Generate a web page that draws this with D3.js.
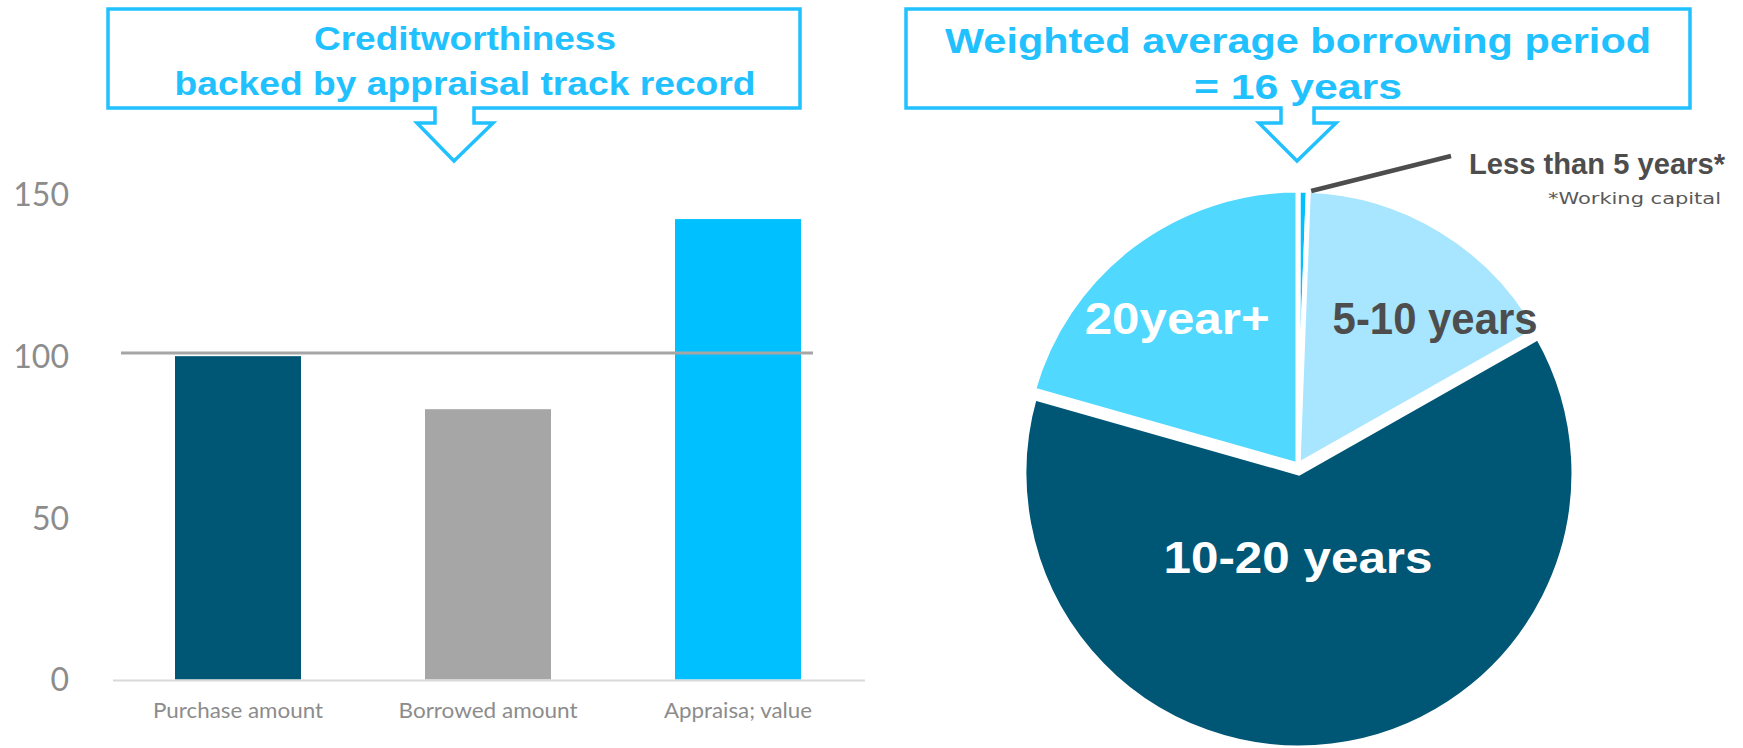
<!DOCTYPE html>
<html>
<head>
<meta charset="utf-8">
<script src="https://cdn.jsdelivr.net/npm/d3@7"></script>
<style>
  html, body { margin: 0; padding: 0; background: #ffffff; }
  svg { display: block; }
</style>
</head>
<body>
<svg id="chart" width="1743" height="748"></svg>
<script>
// ---------- DATA ----------
const categories = ["Purchase amount", "Borrowed amount", "Appraisa; value"];
const barValues = [100, 83.6, 142.4];
const yTicks = [0, 50, 100, 150];
const refValue = 101;

const pieLabels = ["Less than 5 years*", "5-10 years", "10-20 years", "20year+"];
const pieValues = [0.6, 16.2, 62.6, 20.6];
const footnote = "*Working capital";

const leftTitle = ["Creditworthiness", "backed by appraisal track record"];
const rightTitle = ["Weighted average borrowing period", "= 16 years"];

// ---------- SETUP ----------
const svg = d3.select("#chart");
const accent = "#21c1ff";
const titleFont = "'Liberation Sans', Arial, sans-serif";
const axisFont = "Lato, 'Open Sans', sans-serif";

// ---------- CALLOUT BOXES ----------
function callout(x0, x1, y0, y1, stemL, stemR, headL, headR, tipX, stemY, tipY) {
  const p = d3.path();
  p.moveTo(x0, y0); p.lineTo(x1, y0); p.lineTo(x1, y1); p.lineTo(stemR, y1);
  p.lineTo(stemR, stemY); p.lineTo(headR, stemY); p.lineTo(tipX, tipY);
  p.lineTo(headL, stemY); p.lineTo(stemL, stemY); p.lineTo(stemL, y1);
  p.lineTo(x0, y1); p.closePath();
  svg.append("path").attr("d", p.toString())
    .attr("fill", "#fff").attr("stroke", accent).attr("stroke-width", 3.5)
    .attr("stroke-linejoin", "miter");
}
callout(108, 800, 9, 108, 435, 474, 417, 493, 454, 123, 161);
callout(906, 1690, 9, 108, 1281, 1314, 1259, 1336, 1297, 123, 161);

function titleLines(lines, cx, baselines, widths, size) {
  lines.forEach((t, i) => {
    svg.append("text").text(t)
      .attr("x", cx).attr("y", baselines[i])
      .attr("text-anchor", "middle")
      .attr("font-family", titleFont).attr("font-weight", "bold")
      .attr("font-size", size).attr("fill", accent)
      .attr("textLength", widths[i]).attr("lengthAdjust", "spacingAndGlyphs");
  });
}
titleLines(leftTitle, 465, [50, 95], [302, 581], 34);
titleLines(rightTitle, 1298, [53, 99], [706, 208], 35);

// ---------- BAR CHART ----------
const x = d3.scaleBand().domain(categories).range([113, 863])
  .paddingInner(0.496).paddingOuter(0.248);
const y = d3.scaleLinear().domain([0, 150]).range([679.5, 194.5]);
const barColor = d3.scaleOrdinal().domain(categories).range(["#005675", "#a6a6a6", "#00c0ff"]);

const bars = svg.append("g");
bars.selectAll("rect").data(categories).join("rect")
  .attr("x", d => x(d))
  .attr("width", x.bandwidth())
  .attr("y", (d, i) => y(barValues[i]))
  .attr("height", (d, i) => y(0) - y(barValues[i]))
  .attr("fill", d => barColor(d));

// baseline
svg.append("line").attr("x1", 113).attr("x2", 865)
  .attr("y1", y(0) + 1).attr("y2", y(0) + 1)
  .attr("stroke", "#d9d9d9").attr("stroke-width", 2);

// reference line
svg.append("line").attr("x1", 121).attr("x2", 813)
  .attr("y1", y(refValue)).attr("y2", y(refValue))
  .attr("stroke", "#a6a6a6").attr("stroke-width", 3);

// y axis labels
const yAxis = d3.axisLeft(y).tickValues(yTicks).tickSize(0).tickPadding(0);
const gy = svg.append("g").attr("transform", "translate(69,0)").call(yAxis);
gy.select(".domain").remove();
gy.selectAll("text").attr("font-family", axisFont).attr("font-size", 32)
  .attr("fill", "#8c8c8c").attr("dy", "0.35em");

// x axis labels
const xAxis = d3.axisBottom(x).tickSize(0).tickPadding(0);
const gx = svg.append("g").attr("transform", "translate(0,0)").call(xAxis);
gx.select(".domain").remove();
const labelW = [170, 179, 148];
gx.selectAll("text").attr("font-family", axisFont).attr("font-size", 21)
  .attr("fill", "#8c8c8c").attr("y", 718).attr("dy", 0)
  .attr("textLength", (d, i) => labelW[i]).attr("lengthAdjust", "spacingAndGlyphs");

// ---------- PIE ----------
const cx = 1298, cy = 465, R = 275;
const pieColor = d3.scaleOrdinal().domain(pieLabels).range(["#00c0ff", "#a8e5ff", "#005675", "#50d8ff"]);
const pie = d3.pie().sort(null).value(d => d)(pieValues);
const arc = d3.arc().innerRadius(0).outerRadius(R);
const explode = [0, 0, 8, 0];

const pg = svg.append("g").attr("transform", `translate(${cx},${cy})`);
pg.selectAll("path").data(pie).join("path")
  .attr("d", arc)
  .attr("transform", (d, i) => {
    const a = (d.startAngle + d.endAngle) / 2;
    return `translate(${Math.sin(a) * explode[i]},${-Math.cos(a) * explode[i]})`;
  })
  .attr("fill", (d, i) => pieColor(pieLabels[i]))
  .attr("stroke", "#fff").attr("stroke-width", 5).attr("stroke-linejoin", "miter");

// inner labels (polar placement around pie centre)
const inner = [
  null,
  { r: 201, deg: 43, fill: "#4d4d4d", w: 205 },
  { r: 92, deg: 180, fill: "#ffffff", w: 269 },
  { r: 190, deg: 320.5, fill: "#ffffff", w: 185 }
];
inner.forEach((o, i) => {
  if (!o) return;
  const a = o.deg * Math.PI / 180;
  pg.append("text").text(pieLabels[i])
    .attr("x", Math.sin(a) * o.r).attr("y", -Math.cos(a) * o.r)
    .attr("dy", "0.36em").attr("text-anchor", "middle")
    .attr("font-family", titleFont).attr("font-weight", "bold")
    .attr("font-size", 44).attr("fill", o.fill)
    .attr("textLength", o.w).attr("lengthAdjust", "spacingAndGlyphs");
});

// leader line for the tiny slice
const tiny = pie[0];
const ta = (tiny.startAngle + tiny.endAngle) / 2;
svg.append("line")
  .attr("x1", cx + Math.sin(ta) * R + 8).attr("y1", cy - Math.cos(ta) * R + 1)
  .attr("x2", 1451).attr("y2", 156)
  .attr("stroke", "#4d4d4d").attr("stroke-width", 4.5);

svg.append("text").text(pieLabels[0])
  .attr("x", 1469).attr("y", 174)
  .attr("font-family", titleFont).attr("font-weight", "bold")
  .attr("font-size", 30).attr("fill", "#4d4d4d")
  .attr("textLength", 256).attr("lengthAdjust", "spacingAndGlyphs");

svg.append("text").text(footnote)
  .attr("x", 1548).attr("y", 204)
  .attr("font-family", "'DejaVu Sans', Verdana, sans-serif")
  .attr("font-size", 16).attr("fill", "#595959")
  .attr("textLength", 173).attr("lengthAdjust", "spacingAndGlyphs");
</script>
</body>
</html>
